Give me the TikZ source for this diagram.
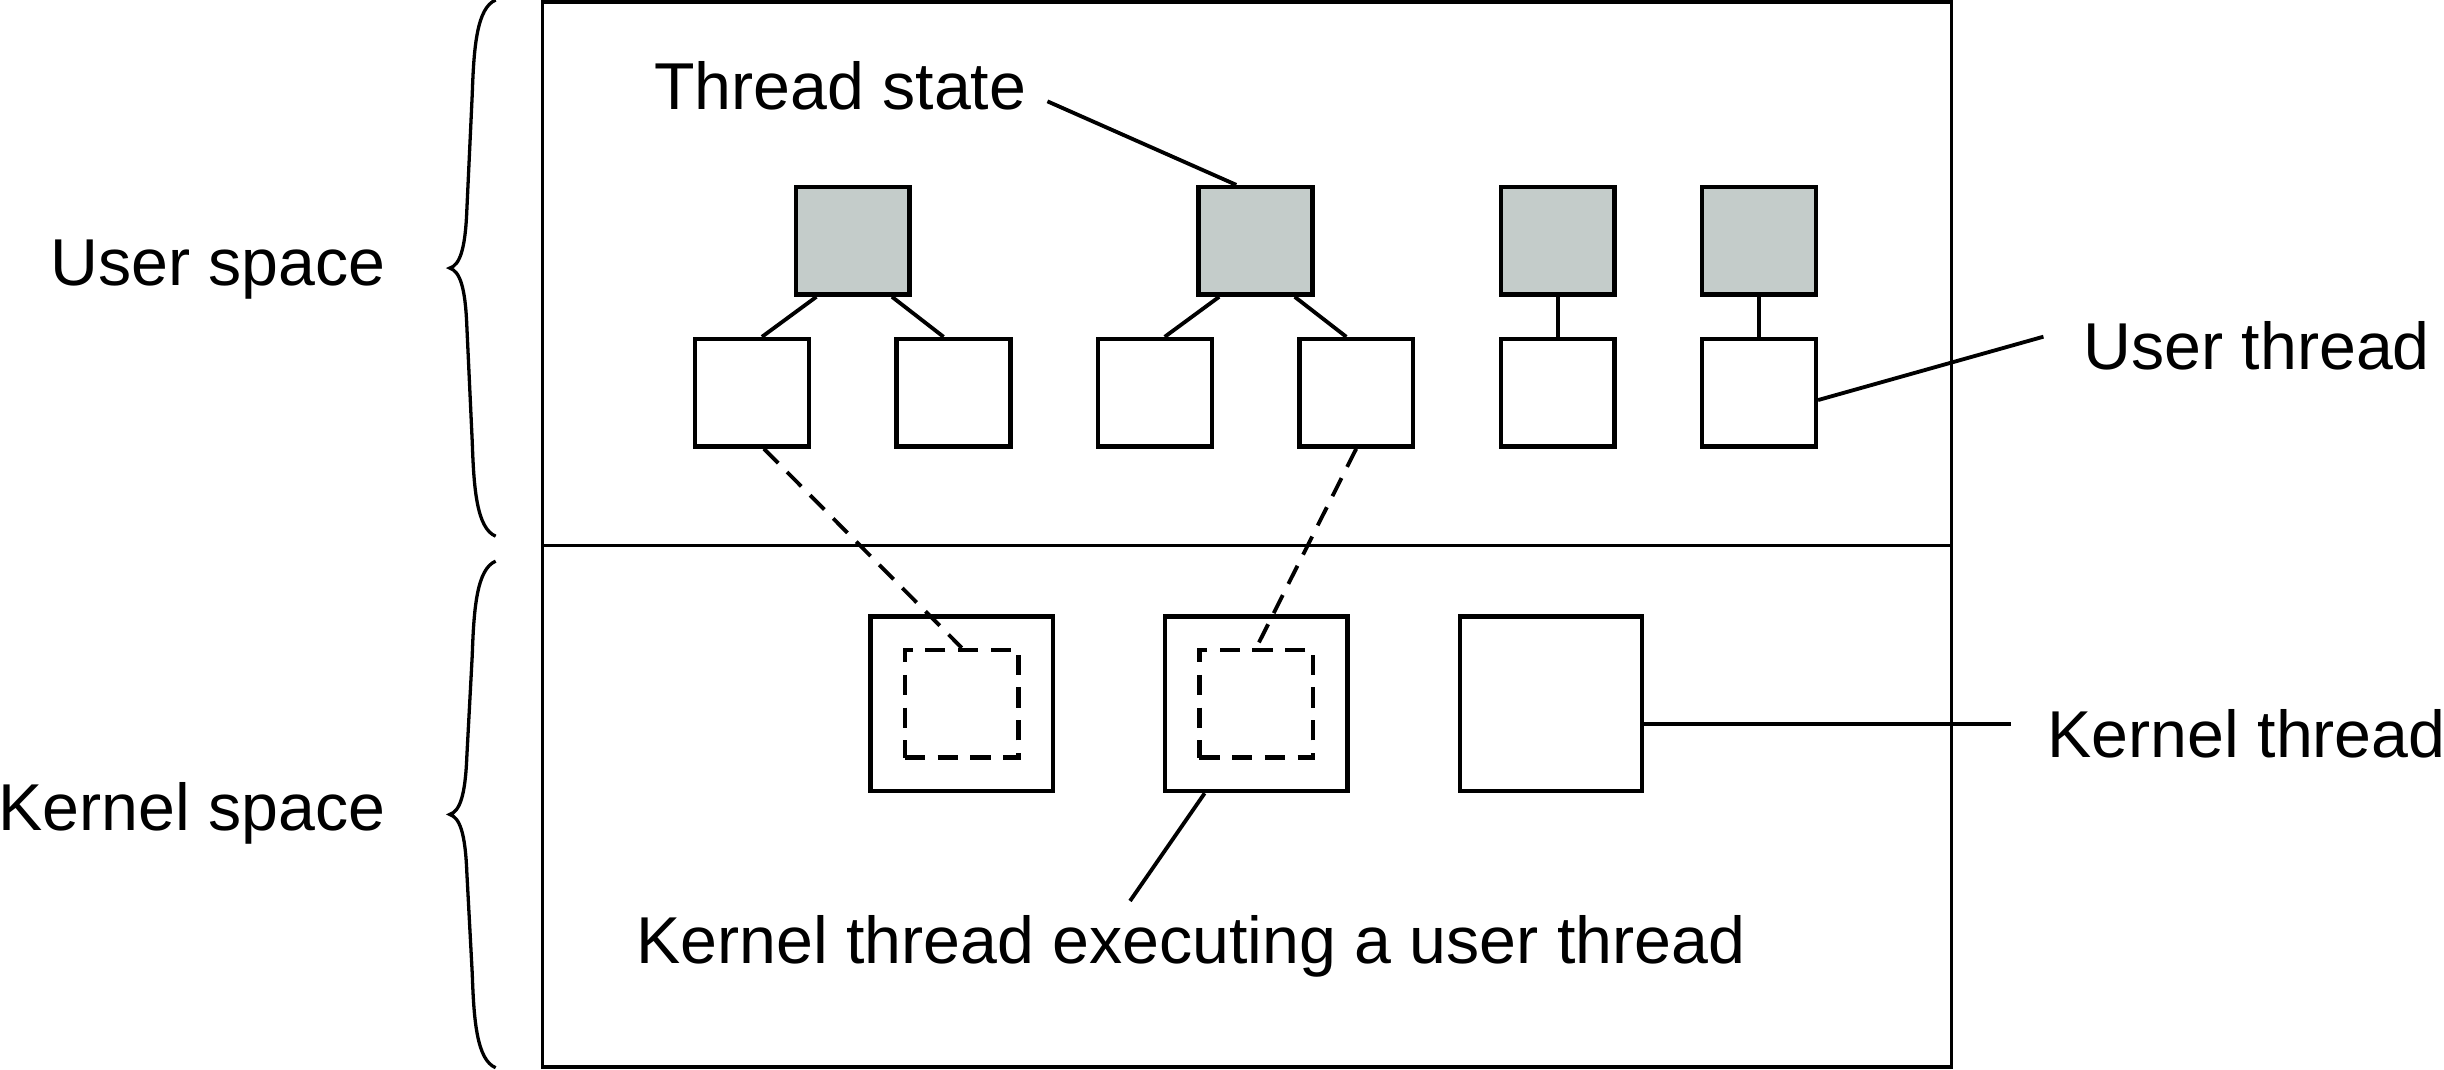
\documentclass[tikz,border=0pt]{standalone}
\usepackage{fontspec}
\setmainfont{Liberation Sans}
\usetikzlibrary{positioning,calc}
\definecolor{statefill}{RGB}{196,204,202}

\begin{document}
\begin{tikzpicture}[%
	x=1mm,y=1mm,
	font=\fontsize{12.1pt}{14pt}\selectfont,
	state node/.style={
		rectangle,
		fill=statefill,
		draw,
		line width=0.8pt,
		minimum width=7.3mm,
		minimum height=6.9mm,
		inner sep=0pt
	},
	thread node/.style={
		rectangle,
		fill=white,
		draw,
		line width=0.8pt,
		minimum width=7.3mm,
		minimum height=6.9mm,
		inner sep=0pt
	},
	kernel node/.style={
		rectangle,
		draw,
		line width=0.8pt,
		minimum width=11.7mm,
		minimum height=11.2mm,
		inner sep=0pt
	},
	inner node/.style={
		rectangle,
		draw,
		line width=0.8pt,
		dash pattern=on 1.3mm off 0.8mm,
		minimum width=7.3mm,
		minimum height=6.9mm,
		inner sep=0pt
	},
	label node/.style={
		inner sep=0pt
	},
	space brace/.style={
		line width=0.6pt
	},
]
	\useasboundingbox (0,0) rectangle (156.8,-68.6);
	% frame with user and kernel space
	\draw[line width=0.7pt] (34.8,-0.15) rectangle (125.2,-68.45);
	\draw[line width=0.7pt] (34.8,-35.0) -- (125.2,-35.0);
	\draw[space brace] (31.8,0) .. controls (30.6,-0.5) and (30.4,-3) .. (30.3,-6)
		-- (29.95,-13.5) .. controls (29.85,-16) and (29.5,-17) .. (28.85,-17.2)
		.. controls (29.5,-17.4) and (29.85,-18.4) .. (29.95,-20.9)
		-- (30.3,-28.4) .. controls (30.4,-31.4) and (30.6,-33.9) .. (31.8,-34.4);
	\draw[space brace] (31.8,-36.0) .. controls (30.6,-36.5) and (30.4,-39) .. (30.3,-42)
		-- (29.95,-48.55) .. controls (29.85,-51.05) and (29.5,-52.05) .. (28.85,-52.25)
		.. controls (29.5,-52.45) and (29.85,-53.45) .. (29.95,-55.95)
		-- (30.3,-62.5) .. controls (30.4,-65.5) and (30.6,-68) .. (31.8,-68.5);
	\node[label node,anchor=base east] (us) at (24.8,-18.3) {User space};
	\node[label node,anchor=base east] (ks) at (24.8,-53.3) {Kernel space};

	% user threads
	\node[thread node] (u1) at (48.25,-25.2) {};
	\node[thread node] (u2) [on grid,right = 12.92mm of u1] {};
	\node[thread node] (u3) [on grid,right = 12.92mm of u2] {};
	\node[thread node] (u4) [on grid,right = 12.92mm of u3] {};
	\node[thread node] (u5) [on grid,right = 12.92mm of u4] {};
	\node[thread node] (u6) [on grid,right = 12.92mm of u5] {};
	\node[state node] (s1) at ($(u1)!0.5!(u2)+(0,9.75)$) {};
	\node[state node] (s2) at ($(u3)!0.5!(u4)+(0,9.75)$) {};
	\node[state node] (s3) [on grid,above = 9.75mm of u5] {};
	\node[state node] (s4) [on grid,above = 9.75mm of u6] {};

	% kernel threads
	\node[kernel node] (k1) at (61.7,-45.15) {};
	\node[kernel node] (k2) [on grid,right = 18.9mm of k1] {};
	\node[kernel node] (k3) [on grid,right = 18.9mm of k2] {};
	\node[inner node] (i1) at (k1) {};
	\node[inner node] (i2) at (k2) {};

	% labels
	\node[label node,anchor=base west] (ts) at (41.9,-7.0) {Thread state};
	\node[label node,anchor=base west] (ut) at (133.6,-23.7) {User thread};
	\node[label node,anchor=base west] (kt) at (131.3,-48.6) {Kernel thread};
	\node[label node,anchor=base west] (ex) at (40.75,-61.8) {Kernel thread executing a user thread};
	\coordinate (ts tip) at (67.2,-6.5);
	\coordinate (ut tip) at (131.1,-21.6);
	\coordinate (kt tip) at ($(k3.-12)+(23.5,0)$);
	\coordinate (ex tip) at (72.5,-57.8);

	\path[draw,line width=0.7pt]
	(s1.-123) edge (u1.80)
	(s1.-55) edge (u2.100)
	(s2.-123) edge (u3.80)
	(s2.-55) edge (u4.100)
	(s3) edge (u5)
	(s4) edge (u6)
	(ts tip) edge (s2.109)
	(u6.-7) edge (ut tip)
	(k3.-12) edge (kt tip)
	(k2.-120) edge (ex tip);
	\path[draw,line width=0.7pt,dash pattern=on 1.3mm off 0.8mm]
	(u1.-78) edge (i1.north)
	(u4.south) edge (i2.north);
\end{tikzpicture}
\end{document}
